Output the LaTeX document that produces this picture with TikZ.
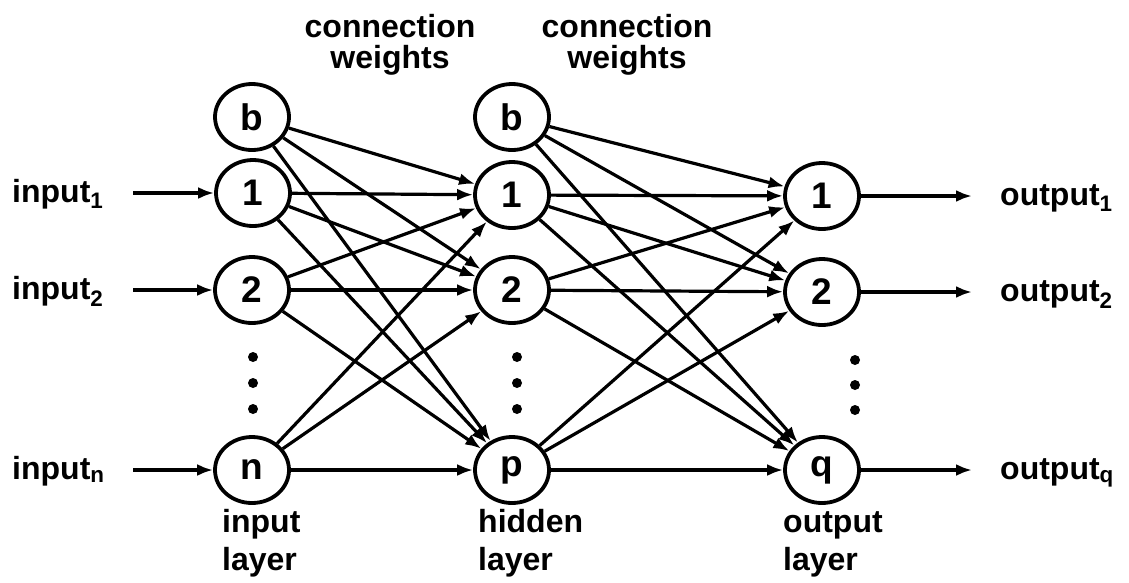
\documentclass[tikz,border=0pt]{standalone}
\usepackage{fontspec}
\setmainfont{Liberation Sans}
\usetikzlibrary{shapes.geometric,arrows.meta}
\tikzset{
  neuron/.style={ellipse,draw,line width=3.8pt,minimum width=74pt,minimum height=66pt,inner sep=0pt,font=\fontsize{37}{38}\selectfont\bfseries},
  conn/.style={line width=3.2pt,-{Latex[length=16pt,width=12pt]}},
  dotc/.style={circle,fill,inner sep=0pt,minimum size=10pt},
  lbl/.style={inner sep=0pt,font=\fontsize{32}{32}\selectfont\bfseries},
}
\begin{document}
\begin{tikzpicture}[x=1pt,y=-1pt]
\useasboundingbox (0,0) rectangle (1129,582);
% input layer
\node[neuron] (ib) at (252,117) {b};
\node[neuron] (i1) at (253,193) {1};
\node[neuron] (i2) at (252,290) {2};
\node[neuron] (in) at (252,470) {n};
% hidden layer
\node[neuron] (hb) at (512,117) {b};
\node[neuron] (h1) at (512,195) {1};
\node[neuron] (h2) at (512,290) {2};
\node[neuron] (hp) at (512,470) {p};
% output layer
\node[neuron] (o1) at (822,196) {1};
\node[neuron] (o2) at (822,292) {2};
\node[neuron] (oq) at (822,470) {q};
% dots
\node[dotc] (d1) at (253,357) {};
\node[dotc] (d2) at (253,383) {};
\node[dotc] (d3) at (253,409) {};
\node[dotc] (d4) at (517,357) {};
\node[dotc] (d5) at (517,383) {};
\node[dotc] (d6) at (517,409) {};
\node[dotc] (d7) at (855,360) {};
\node[dotc] (d8) at (855,385) {};
\node[dotc] (d9) at (855,410) {};
% connections input -> hidden
\foreach \s in {ib,i1,i2,in}{
  \foreach \t in {h1,h2,hp}{
    \draw[conn] (\s) -- (\t);
  }
}
% connections hidden -> output
\foreach \s in {hb,h1,h2,hp}{
  \foreach \t in {o1,o2,oq}{
    \draw[conn] (\s) -- (\t);
  }
}
% inputs
\coordinate (c1) at (133,193);
\coordinate (c2) at (133,290);
\coordinate (cn) at (133,470);
\draw[conn] (c1) -- (i1);
\draw[conn] (c2) -- (i2);
\draw[conn] (cn) -- (in);
\node[lbl,anchor=base west] (li1) at (12,202) {input\textsubscript{1}};
\node[lbl,anchor=base west] (li2) at (12,299) {input\textsubscript{2}};
\node[lbl,anchor=base west] (lin) at (12,479) {input\textsubscript{n}};
% outputs
\coordinate (e1) at (972,196);
\coordinate (e2) at (972,292);
\coordinate (eq) at (972,470);
\draw[conn] (o1) -- (e1);
\draw[conn] (o2) -- (e2);
\draw[conn] (oq) -- (eq);
\node[lbl,anchor=base west] (lo1) at (1000,205) {output\textsubscript{1}};
\node[lbl,anchor=base west] (lo2) at (1000,301) {output\textsubscript{2}};
\node[lbl,anchor=base west] (loq) at (1000,479) {output\textsubscript{q}};
% top labels
\node[lbl,anchor=base] (cw1) at (390,37) {connection};
\node[lbl,anchor=base] (ww1) at (390,68) {weights};
\node[lbl,anchor=base] (cw2) at (627,37) {connection};
\node[lbl,anchor=base] (ww2) at (627,68) {weights};
% layer labels
\node[lbl,anchor=base west] (il1) at (222,532) {input};
\node[lbl,anchor=base west] (il2) at (222,570) {layer};
\node[lbl,anchor=base west] (hl1) at (478,532) {hidden};
\node[lbl,anchor=base west] (hl2) at (478,570) {layer};
\node[lbl,anchor=base west] (ol1) at (783,532) {output};
\node[lbl,anchor=base west] (ol2) at (783,570) {layer};
\end{tikzpicture}
\end{document}
